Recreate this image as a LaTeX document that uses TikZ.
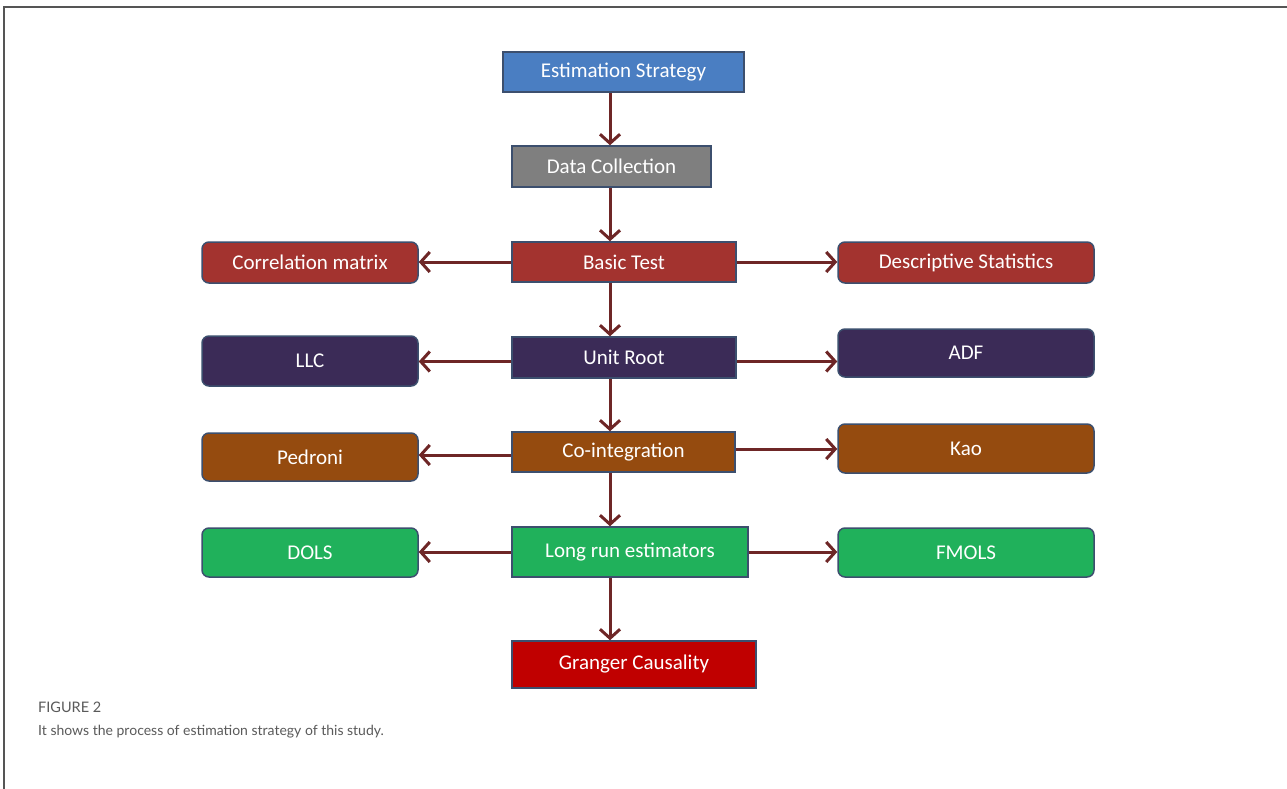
\documentclass[tikz,border=0pt]{standalone}
\usepackage{fontspec}
\setmainfont{Carlito}
\newfontfamily\capfont{Lato}
\usetikzlibrary{arrows.meta}
\definecolor{cblue}{HTML}{4A7EC2}
\definecolor{cgray}{HTML}{7F7F7F}
\definecolor{cred}{HTML}{A3332F}
\definecolor{cpurp}{HTML}{3B2B57}
\definecolor{cbrown}{HTML}{954B0F}
\definecolor{cgreen}{HTML}{20B15B}
\definecolor{cdred}{HTML}{C00000}
\definecolor{bordc}{HTML}{3C4F6E}
\definecolor{arrc}{HTML}{6E2626}
\definecolor{capc}{HTML}{5A5A5A}
\definecolor{framec}{HTML}{555555}
\begin{document}
\begin{tikzpicture}[x=1pt,y=-1pt,
  cbox/.style={draw=bordc, line width=1.5pt, text=white, font=\fontsize{21}{24}\selectfont, inner sep=0pt, rectangle},
  rbox/.style={cbox, rounded corners=7pt},
  arr/.style={draw=arrc, line width=3pt, -{Straight Barb[length=9pt,width=20pt]}},
  frameline/.style={draw=framec, line width=1.5pt}]
\useasboundingbox (0,0) rectangle (1287,789);
\fill[white] (0,0) rectangle (1287,789);
\coordinate (ftop) at (4,7);
\coordinate (fright) at (1287,7);
\coordinate (fbot) at (4,789);
\draw[frameline] (fbot) -- (ftop) -- (fright);

\node[cbox, fill=cblue, minimum width=241pt, minimum height=40pt] (es) at (623.5,72) {Estimation Strategy};
\node[cbox, fill=cgray, minimum width=199pt, minimum height=41pt] (dc) at (611.5,166.5) {Data Collection};
\node[cbox, fill=cred, minimum width=224pt, minimum height=40pt] (bt) at (624,262) {Basic Test};
\node[rbox, fill=cred, minimum width=216pt, minimum height=41pt] (cm) at (310,262.5) {Correlation matrix};
\node[rbox, fill=cred, minimum width=256pt, minimum height=41pt] (ds) at (966,262.5) {Descriptive Statistics};
\node[cbox, fill=cpurp, minimum width=224pt, minimum height=41pt] (ur) at (624,357.5) {Unit Root};
\node[rbox, fill=cpurp, minimum width=216pt, minimum height=50pt] (llc) at (310,361) {LLC};
\node[rbox, fill=cpurp, minimum width=256pt, minimum height=48pt] (adf) at (966,353) {ADF};
\node[cbox, fill=cbrown, minimum width=223pt, minimum height=40pt] (ci) at (623.5,452) {Co-integration};
\node[rbox, fill=cbrown, minimum width=216pt, minimum height=48pt] (ped) at (310,457) {Pedroni};
\node[rbox, fill=cbrown, minimum width=256pt, minimum height=49pt] (kao) at (966,448.5) {Kao};
\node[cbox, fill=cgreen, minimum width=236pt, minimum height=50pt] (lr) at (630,552) {Long run estimators};
\node[rbox, fill=cgreen, minimum width=216pt, minimum height=49pt] (dols) at (310,552.5) {DOLS};
\node[rbox, fill=cgreen, minimum width=256pt, minimum height=49pt] (fm) at (966,552.5) {FMOLS};
\node[cbox, fill=cdred, minimum width=244pt, minimum height=47pt] (gc) at (634,664.5) {Granger Causality};

\coordinate (spine) at (610,0);
\draw[arr] (es.south -| spine) -- (dc.north -| spine);
\draw[arr] (dc.south -| spine) -- (bt.north -| spine);
\draw[arr] (bt.south -| spine) -- (ur.north -| spine);
\draw[arr] (ur.south -| spine) -- (ci.north -| spine);
\draw[arr] (ci.south -| spine) -- (lr.north -| spine);
\draw[arr] (lr.south -| spine) -- (gc.north -| spine);

\draw[arr] (bt.west) -- (bt.west -| cm.east);
\draw[arr] (bt.east) -- (bt.east -| ds.west);
\draw[arr] ([yshift=-4pt]ur.west) -- ([yshift=-4pt]ur.west -| llc.east);
\draw[arr] ([yshift=-4pt]ur.east) -- ([yshift=-4pt]ur.east -| adf.west);
\draw[arr] ([yshift=-3pt]ci.west) -- ([yshift=-3pt]ci.west -| ped.east);
\draw[arr] ([yshift=3pt]ci.east) -- ([yshift=3pt]ci.east -| kao.west);
\draw[arr] (lr.west) -- (lr.west -| dols.east);
\draw[arr] (lr.east) -- (lr.east -| fm.west);

\node[anchor=base west, inner sep=0pt, text=capc, font=\capfont\fontsize{14.5}{17}\selectfont] (fig) at (38,712) {FIGURE 2};
\node[anchor=base west, inner sep=0pt, text=capc, font=\capfont\fontsize{14}{17}\selectfont] (cap) at (38,735) {It shows the process of estimation strategy of this study.};
\end{tikzpicture}
\end{document}
